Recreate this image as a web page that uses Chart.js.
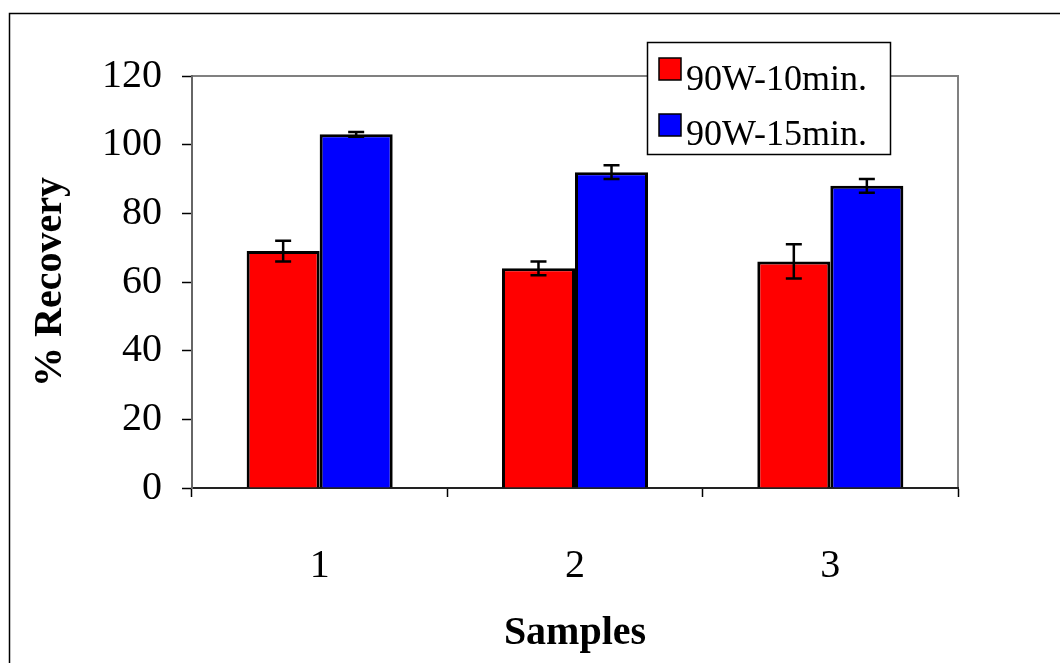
<!DOCTYPE html>
<html><head><meta charset="utf-8">
<script src="https://cdn.jsdelivr.net/npm/chart.js@4/dist/chart.umd.min.js"></script>
<style>html,body{margin:0;padding:0;background:#fff;} #wrap{width:1060px;height:663px;position:relative;}</style>
</head><body><div id="wrap"><canvas id="c" width="1060" height="663"></canvas></div>
<script>
const categories = ['1', '2', '3'];
const seriesNames = ['90W-10min.', '90W-15min.'];
const values10 = [69, 64, 66];
const values15 = [103, 92, 88];
const errors10 = [3, 2, 5];
const errors15 = [0.7, 2, 2];
const yTicks = [0, 20, 40, 60, 80, 100, 120];
const seriesColors = ['#FF0000', '#0000FF'];

const FONT = "'Liberation Serif', 'Times New Roman', serif";

const frame = {
  id: 'frame',
  beforeDraw(chart) {
    const ctx = chart.ctx;
    ctx.save();
    ctx.fillStyle = '#fff';
    ctx.fillRect(0, 0, chart.width, chart.height);
    ctx.strokeStyle = '#000';
    ctx.lineWidth = 1.5;
    ctx.beginPath();
    ctx.moveTo(9.5, chart.height + 2);
    ctx.lineTo(9.5, 13.5);
    ctx.lineTo(chart.width + 2, 13.5);
    ctx.stroke();
    const a = chart.chartArea;
    ctx.strokeStyle = '#808080';
    ctx.lineWidth = 2;
    ctx.beginPath();
    ctx.moveTo(a.left, a.top);
    ctx.lineTo(a.right, a.top);
    ctx.lineTo(a.right, a.bottom);
    ctx.stroke();
    ctx.restore();
  }
};

const errorBars = {
  id: 'errorBars',
  afterDatasetsDraw(chart) {
    const ctx = chart.ctx;
    const y = chart.scales.y;
    const errs = [errors10, errors15];
    ctx.save();
    ctx.strokeStyle = '#000';
    ctx.lineWidth = 2.5;
    chart.data.datasets.forEach((ds, di) => {
      const meta = chart.getDatasetMeta(di);
      meta.data.forEach((bar, i) => {
        const v = ds.data[i], e = errs[di][i];
        const yt = y.getPixelForValue(v + e), yb = y.getPixelForValue(v - e);
        const x = bar.x, hw = 8;
        ctx.beginPath();
        ctx.moveTo(x, yt); ctx.lineTo(x, yb);
        ctx.moveTo(x - hw, yt); ctx.lineTo(x + hw, yt);
        ctx.moveTo(x - hw, yb); ctx.lineTo(x + hw, yb);
        ctx.stroke();
      });
    });
    ctx.restore();
  }
};

const boxLegend = {
  id: 'boxLegend',
  afterDraw(chart) {
    const ctx = chart.ctx;
    ctx.save();
    const L = 647, T = 42, W = 243, H = 112;
    ctx.fillStyle = '#fff';
    ctx.fillRect(L, T, W, H);
    ctx.strokeStyle = '#000';
    ctx.lineWidth = 1.5;
    ctx.strokeRect(L + 0.5, T + 0.5, W, H);
    ctx.font = '36px ' + FONT;
    ctx.textBaseline = 'alphabetic';
    ctx.textAlign = 'left';
    chart.data.datasets.forEach((ds, i) => {
      const sy = 58 + i * 56;
      ctx.fillStyle = ds.backgroundColor;
      ctx.fillRect(659, sy, 22, 22);
      ctx.lineWidth = 1.5;
      ctx.strokeStyle = '#000';
      ctx.strokeRect(659, sy, 22, 22);
      ctx.fillStyle = '#000';
      ctx.fillText(ds.label, 686, 90 + i * 55);
    });
    ctx.restore();
  }
};

new Chart(document.getElementById('c'), {
  type: 'bar',
  data: {
    labels: categories,
    datasets: [
      { label: seriesNames[0], data: values10, backgroundColor: seriesColors[0], borderColor: '#000', borderWidth: 3 },
      { label: seriesNames[1], data: values15, backgroundColor: seriesColors[1], borderColor: '#000', borderWidth: 3 }
    ]
  },
  options: {
    responsive: false,
    animation: false,
    devicePixelRatio: 1,
    layout: { padding: { left: 0, right: 102, top: 76, bottom: 0 } },
    datasets: { bar: { categoryPercentage: 0.572, barPercentage: 1.0 } },
    plugins: { legend: { display: false }, tooltip: { enabled: false } },
    scales: {
      x: {
        afterFit(s) { s.height = 175; },
        grid: { offset: true, drawOnChartArea: false, drawTicks: true, tickLength: 9, tickColor: '#000', tickWidth: 1.5 },
        border: { color: '#222', width: 2 },
        ticks: { color: '#000', font: { family: FONT, size: 40 }, padding: 45 },
        title: { display: true, text: 'Samples', color: '#000', font: { family: FONT, size: 40, weight: 'bold' }, padding: { top: 0, bottom: 5 } }
      },
      y: {
        min: 0, max: 120,
        afterFit(s) { s.width = 192; },
        afterBuildTicks(s) { s.ticks = yTicks.map(v => ({ value: v })); },
        grid: { drawOnChartArea: false, drawTicks: true, tickLength: 10, tickColor: '#000', tickWidth: 1.5 },
        border: { color: '#666', width: 2 },
        ticks: { color: '#000', font: { family: FONT, size: 40 }, padding: 20 },
        title: { display: true, text: '% Recovery', color: '#000', font: { family: FONT, size: 40, weight: 'bold' }, padding: { top: 27, bottom: 0 } }
      }
    }
  },
  plugins: [frame, errorBars, boxLegend]
});
</script>
</body></html>
